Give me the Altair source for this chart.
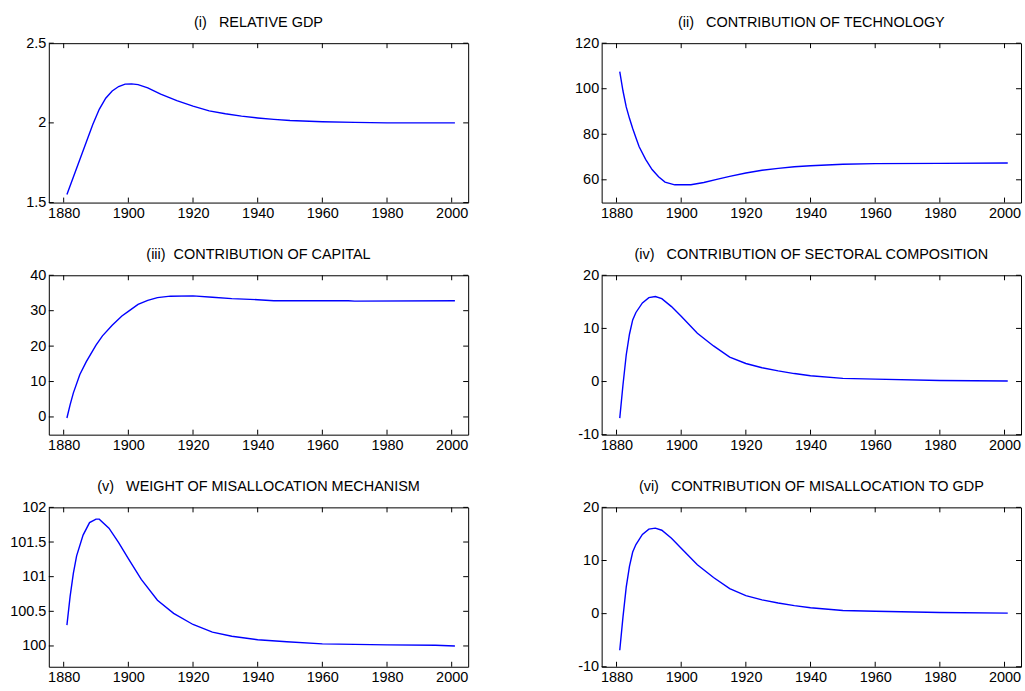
import altair as alt
import pandas as pd

# ---------------- data ----------------
X_TICKS = [1880, 1900, 1920, 1940, 1960, 1980, 2000]

GDP_YEARS = [1881, 1883, 1885, 1887, 1889, 1891, 1893, 1895, 1897, 1899, 1901, 1903,
             1906, 1910, 1915, 1920, 1925, 1930, 1935, 1940, 1945, 1950, 1960, 1970,
             1980, 1990, 2001]
GDP = [1.55, 1.66, 1.77, 1.88, 1.99, 2.085, 2.155, 2.20, 2.228, 2.243, 2.245, 2.24,
       2.22, 2.18, 2.14, 2.105, 2.075, 2.057, 2.042, 2.031, 2.022, 2.015, 2.007, 2.003,
       2.0, 2.0, 2.0]
GDP_TICKS = [1.5, 2, 2.5]

TECH_YEARS = [1881, 1882, 1883, 1884, 1885, 1886, 1887, 1889, 1891, 1893, 1895, 1898,
              1903, 1907, 1911, 1915, 1920, 1925, 1930, 1935, 1940, 1950, 1960, 1980,
              2001]
TECH = [107.5, 99.0, 92.0, 87.0, 82.5, 78.5, 74.5, 69.0, 64.5, 61.3, 59.0, 57.8,
        57.8, 58.8, 60.2, 61.5, 63.0, 64.2, 65.0, 65.7, 66.2, 66.8, 67.1, 67.2,
        67.4]
TECH_TICKS = [60, 80, 100, 120]

CAP_YEARS = [1881, 1882, 1883, 1885, 1887, 1890, 1892, 1895, 1898, 1900, 1903, 1906,
             1909, 1913, 1920, 1926, 1932, 1940, 1945, 1968, 1970, 2001]
CAP = [-0.3, 3.5, 6.8, 12.0, 15.6, 20.3, 22.9, 25.9, 28.5, 29.8, 31.8, 32.9,
       33.7, 34.1, 34.2, 33.8, 33.4, 33.1, 32.8, 32.8, 32.7, 32.8]
CAP_TICKS = [0, 10, 20, 30, 40]

SEC_YEARS = [1881, 1882, 1883, 1884, 1885, 1886, 1888, 1890, 1892, 1894, 1897, 1900,
             1905, 1910, 1915, 1920, 1925, 1930, 1935, 1940, 1950, 1960, 1980, 2001]
SEC = [-6.9, -0.6, 5.0, 8.9, 11.6, 13.0, 14.8, 15.8, 16.0, 15.6, 14.1, 12.3,
       9.1, 6.7, 4.6, 3.4, 2.6, 2.0, 1.5, 1.1, 0.6, 0.45, 0.2, 0.1]
SEC_TICKS = [-10, 0, 10, 20]

W_YEARS = [1881, 1882, 1883, 1884, 1886, 1888, 1890, 1891, 1894, 1897, 1900, 1904,
           1909, 1914, 1920, 1926, 1932, 1940, 1949, 1960, 1980, 1995, 2001]
WEIGHT = [100.30, 100.72, 101.05, 101.30, 101.60, 101.78, 101.83, 101.83, 101.70,
          101.49, 101.26, 100.96, 100.66, 100.47, 100.31, 100.20, 100.14, 100.09,
          100.06, 100.03, 100.015, 100.01, 100.0]
W_TICKS = [100, 100.5, 101, 101.5, 102]

MIS_YEARS = [1881, 1882, 1883, 1884, 1885, 1886, 1888, 1890, 1892, 1894, 1897, 1900,
             1905, 1910, 1915, 1920, 1925, 1930, 1935, 1940, 1950, 1960, 1980, 2001]
MIS = [-6.9, -0.6, 5.0, 8.9, 11.6, 13.0, 14.9, 15.9, 16.1, 15.7, 14.2, 12.3,
       9.2, 6.8, 4.7, 3.4, 2.6, 2.0, 1.5, 1.1, 0.6, 0.45, 0.2, 0.1]
MIS_TICKS = [-10, 0, 10, 20]

# ---------------- styling ----------------
FONT = "Liberation Sans"
W, H = 421, 160
TL = 5  # inward tick length
XDOM = [1875.4, 2005.1]
NB = "\u00a0"


def panel(title, years, values, ydom, yticks):
    df = pd.DataFrame({"year": years, "v": values})
    xs = alt.Scale(domain=XDOM, nice=False, zero=False)
    ys = alt.Scale(domain=ydom, nice=False, zero=False)
    xax = alt.Axis(values=X_TICKS, title=None, labelExpr="'' + datum.value",
                   labelPadding=4, minExtent=22, maxExtent=22)
    yax = alt.Axis(values=yticks, title=None, labelExpr="'' + datum.value",
                   labelPadding=3, minExtent=40, maxExtent=40)
    line = alt.Chart(df).mark_line(color="#0000ff", strokeWidth=1.4).encode(
        x=alt.X("year:Q", scale=xs, axis=xax),
        y=alt.Y("v:Q", scale=ys, axis=yax),
    )
    xt = pd.DataFrame({"t": X_TICKS})
    yt = pd.DataFrame({"t": yticks})
    rx = alt.Chart(xt).mark_rule(color="black", strokeWidth=1)
    ry = alt.Chart(yt).mark_rule(color="black", strokeWidth=1)
    bx = rx.encode(x=alt.X("t:Q", scale=xs, axis=xax), y=alt.value(H), y2=alt.value(H - TL))
    tx = rx.encode(x=alt.X("t:Q", scale=xs, axis=xax), y=alt.value(0), y2=alt.value(TL))
    ly = ry.encode(y=alt.Y("t:Q", scale=ys, axis=yax), x=alt.value(0), x2=alt.value(TL))
    rr = ry.encode(y=alt.Y("t:Q", scale=ys, axis=yax), x=alt.value(W - TL), x2=alt.value(W))
    return alt.layer(line, bx, tx, ly, rr).properties(
        width=W, height=H,
        title=alt.TitleParams(title, fontSize=14.5, font=FONT, fontWeight="normal",
                              anchor="middle", baseline="alphabetic", offset=-6,
                              color="black"),
    )


p1 = panel("(i)" + NB * 3 + "RELATIVE GDP", GDP_YEARS, GDP, [1.5, 2.5], GDP_TICKS)
p2 = panel("(ii)" + NB * 3 + "CONTRIBUTION OF TECHNOLOGY", TECH_YEARS, TECH, [50, 120], TECH_TICKS)
p3 = panel("(iii)" + NB * 2 + "CONTRIBUTION OF CAPITAL", CAP_YEARS, CAP, [-5, 40], CAP_TICKS)
p4 = panel("(iv)" + NB * 3 + "CONTRIBUTION OF SECTORAL COMPOSITION", SEC_YEARS, SEC, [-10, 20], SEC_TICKS)
p5 = panel("(v)" + NB * 3 + "WEIGHT OF MISALLOCATION MECHANISM", W_YEARS, WEIGHT, [99.7, 102], W_TICKS)
p6 = panel("(vi)" + NB * 3 + "CONTRIBUTION OF MISALLOCATION TO GDP", MIS_YEARS, MIS, [-10, 20], MIS_TICKS)

chart = alt.vconcat(
    alt.hconcat(p1, p2, spacing=92),
    alt.hconcat(p3, p4, spacing=92),
    alt.hconcat(p5, p6, spacing=92),
    spacing=21,
).properties(
    padding={"left": 8, "top": 13, "right": 3, "bottom": 4},
    background="white",
).configure_view(
    stroke="black", strokeWidth=1
).configure_axis(
    domain=False, ticks=False, grid=False,
    labelFont=FONT, labelFontSize=14.5, labelColor="black",
).configure_axisX(labelFlush=False).configure_axisY(labelBaseline="middle")

chart.save("out.html", embed_options={"renderer": "svg", "actions": False})
